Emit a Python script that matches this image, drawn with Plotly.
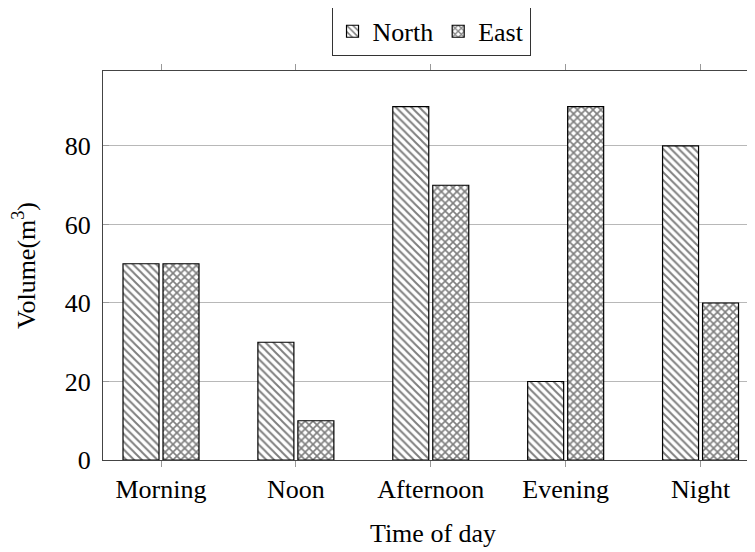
import plotly.graph_objects as go

categories = ["Morning", "Noon", "Afternoon", "Evening", "Night"]
north = [50, 30, 90, 20, 80]
east = [50, 10, 70, 90, 40]
series_names = ["North", "East"]
y_ticks = [0, 20, 40, 60, 80]

FONT = "Liberation Serif, Times New Roman, DejaVu Serif, serif"
FS = 26

fig = go.Figure()
fig.add_trace(go.Bar(
    x=categories, y=north, name=series_names[0],
    marker=dict(color="white", line=dict(color="black", width=1.2),
                pattern=dict(shape="\\", fgcolor="black", bgcolor="white", size=5.5, solidity=0.35)),
))
fig.add_trace(go.Bar(
    x=categories, y=east, name=series_names[1],
    marker=dict(color="white", line=dict(color="black", width=1.2),
                pattern=dict(shape="x", fgcolor="black", bgcolor="white", size=5.5, solidity=0.5)),
))

# page body has an 8px margin; compensate in the margins
fig.update_layout(
    width=755, height=552,
    margin=dict(l=95, r=0, t=63, b=100, autoexpand=False),
    paper_bgcolor="white", plot_bgcolor="white",
    barmode="group", bargap=0.407, bargroupgap=0.1,
    font=dict(family=FONT, size=FS, color="black"),
    showlegend=True,
    legend=dict(orientation="h", x=0.497, xanchor="center", y=1.039, yanchor="bottom",
                bordercolor="#333333", borderwidth=1, bgcolor="white",
                font=dict(family=FONT, size=FS), tracegroupgap=0),
)

fig.update_xaxes(
    type="category", range=[-0.43, 4.463], automargin=False,
    showline=True, linecolor="#444444", linewidth=1.2, mirror="ticks",
    ticks="outside", ticklen=6, tickcolor="#999999", tickwidth=1,
    showgrid=False, zeroline=False,
    tickfont=dict(family=FONT, size=FS),
    title=dict(text="Time of day", font=dict(family=FONT, size=FS), standoff=20),
)
fig.update_yaxes(
    range=[0, 99.1], tickvals=y_ticks, automargin=False,
    showline=True, linecolor="#444444", linewidth=1.2,
    ticks="inside", ticklen=6, tickcolor="#999999", tickwidth=1,
    ticklabelstandoff=6,
    showgrid=True, gridcolor="#b8b8b8", gridwidth=1, zeroline=False,
    tickfont=dict(family=FONT, size=FS),
    title=dict(text="Volume(m<sup>3</sup>)", font=dict(family=FONT, size=FS), standoff=22),
)

fig.write_html("out.html")
